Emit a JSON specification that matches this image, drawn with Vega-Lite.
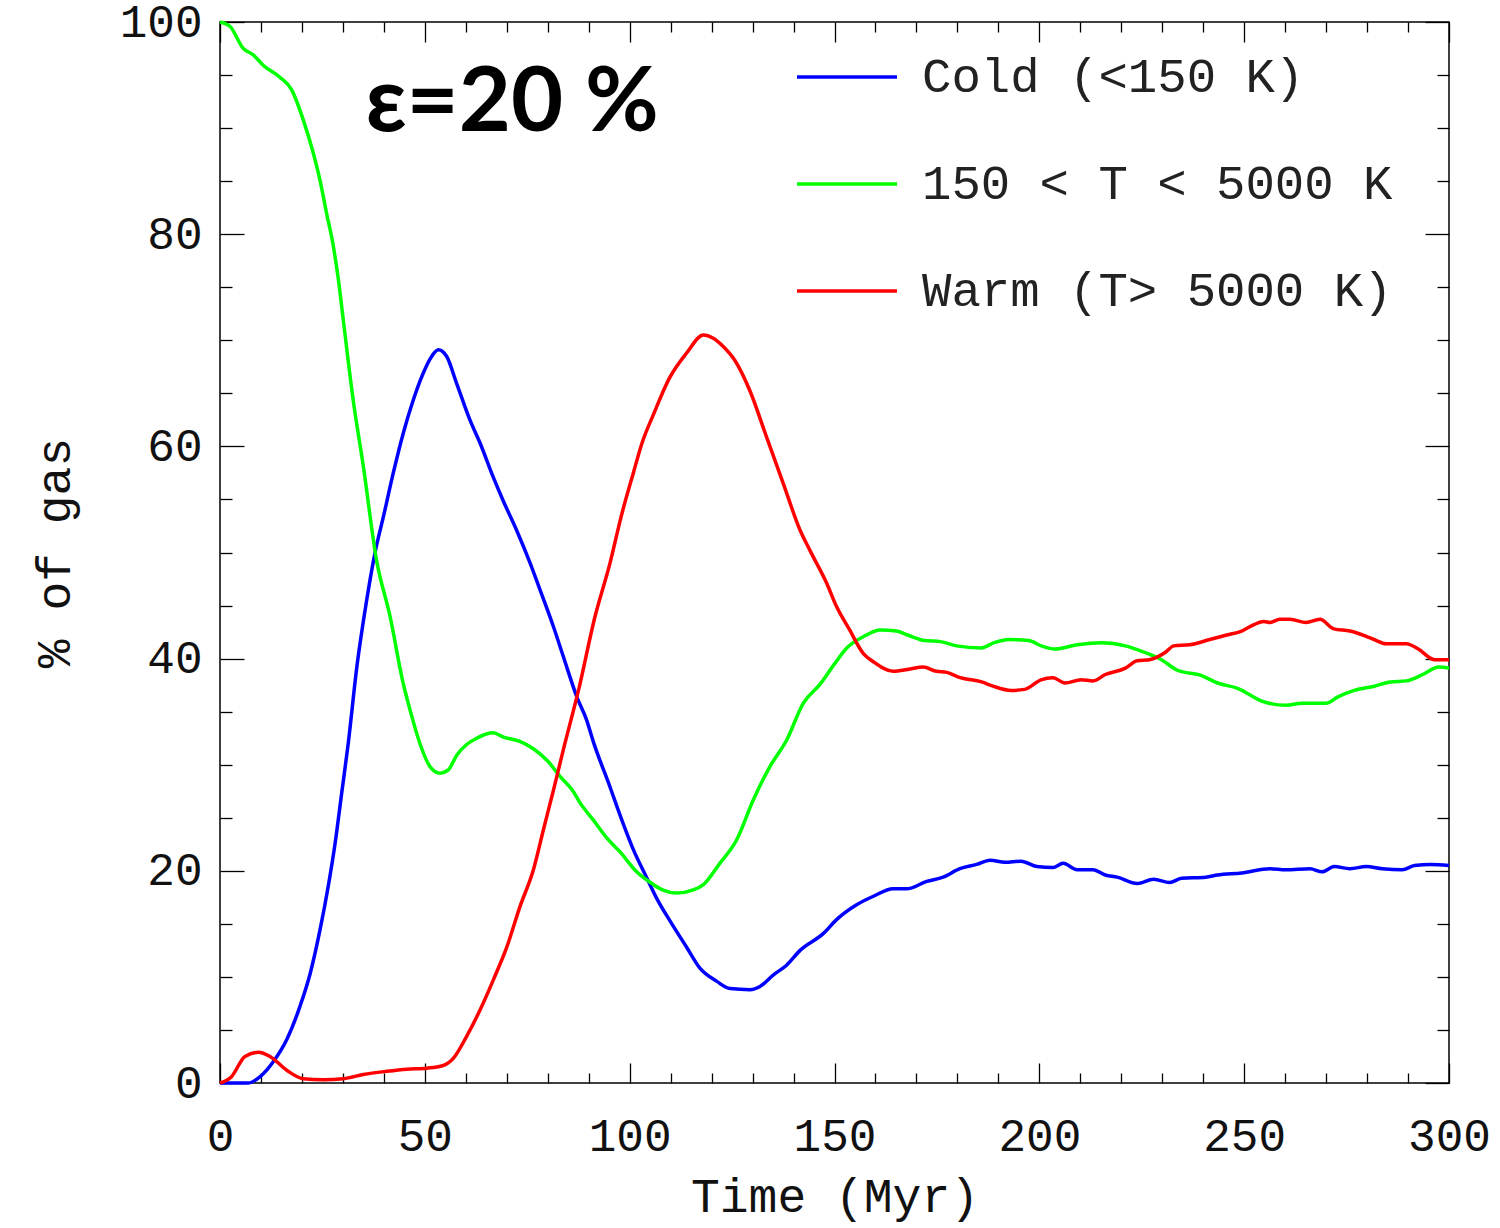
{
  "$schema": "https://vega.github.io/schema/vega-lite/v6.json",
  "width": 1229,
  "height": 1061,
  "autosize": {"type": "none"},
  "padding": {"left": 220, "top": 22, "right": 51, "bottom": 145},
  "background": "white",
  "config": {
    "view": {"stroke": "black", "strokeWidth": 1.5},
    "axis": {
      "domain": false, "grid": false, "tickColor": "black", "tickWidth": 1.3,
      "labelFont": "Liberation Mono", "labelFontSize": 46, "labelColor": "#111",
      "titleFont": "Liberation Mono", "titleFontSize": 48, "titleFontWeight": "normal", "titleColor": "#111"
    }
  },
  "datasets": {
    "gas": [
      {"t":0,"v":0,"s":"Cold (<150 K)"},{"t":6.9,"v":0,"s":"Cold (<150 K)"},{"t":9.8,"v":0.6,"s":"Cold (<150 K)"},{"t":13,"v":2,"s":"Cold (<150 K)"},{"t":16.3,"v":4.1,"s":"Cold (<150 K)"},{"t":19.5,"v":7.2,"s":"Cold (<150 K)"},{"t":22,"v":10.3,"s":"Cold (<150 K)"},{"t":24.4,"v":14.4,"s":"Cold (<150 K)"},{"t":26.4,"v":18.5,"s":"Cold (<150 K)"},{"t":28.1,"v":22.6,"s":"Cold (<150 K)"},{"t":29.7,"v":27.3,"s":"Cold (<150 K)"},{"t":31.3,"v":32,"s":"Cold (<150 K)"},{"t":33.4,"v":39.2,"s":"Cold (<150 K)"},{"t":35.8,"v":45.5,"s":"Cold (<150 K)"},{"t":37.8,"v":49.9,"s":"Cold (<150 K)"},{"t":39.9,"v":53.4,"s":"Cold (<150 K)"},{"t":42.3,"v":57.5,"s":"Cold (<150 K)"},{"t":44.7,"v":61.2,"s":"Cold (<150 K)"},{"t":47.2,"v":64.4,"s":"Cold (<150 K)"},{"t":49.6,"v":66.9,"s":"Cold (<150 K)"},{"t":51.7,"v":68.5,"s":"Cold (<150 K)"},{"t":53.3,"v":69.1,"s":"Cold (<150 K)"},{"t":55.3,"v":68.5,"s":"Cold (<150 K)"},{"t":57.8,"v":65.9,"s":"Cold (<150 K)"},{"t":61,"v":62.5,"s":"Cold (<150 K)"},{"t":63.5,"v":60.3,"s":"Cold (<150 K)"},{"t":66.7,"v":57.1,"s":"Cold (<150 K)"},{"t":69.1,"v":54.9,"s":"Cold (<150 K)"},{"t":72.4,"v":52.1,"s":"Cold (<150 K)"},{"t":75.7,"v":49,"s":"Cold (<150 K)"},{"t":78.1,"v":46.5,"s":"Cold (<150 K)"},{"t":81.4,"v":43,"s":"Cold (<150 K)"},{"t":83.8,"v":40.2,"s":"Cold (<150 K)"},{"t":87.1,"v":36.4,"s":"Cold (<150 K)"},{"t":89.5,"v":34.2,"s":"Cold (<150 K)"},{"t":91.1,"v":32.2,"s":"Cold (<150 K)"},{"t":95.2,"v":27.9,"s":"Cold (<150 K)"},{"t":97.6,"v":25.3,"s":"Cold (<150 K)"},{"t":100.9,"v":22,"s":"Cold (<150 K)"},{"t":104.1,"v":19.4,"s":"Cold (<150 K)"},{"t":106.6,"v":17.4,"s":"Cold (<150 K)"},{"t":109.8,"v":15.3,"s":"Cold (<150 K)"},{"t":113.9,"v":12.8,"s":"Cold (<150 K)"},{"t":117.2,"v":10.8,"s":"Cold (<150 K)"},{"t":121.2,"v":9.6,"s":"Cold (<150 K)"},{"t":124.5,"v":8.9,"s":"Cold (<150 K)"},{"t":129.4,"v":8.8,"s":"Cold (<150 K)"},{"t":131.8,"v":9.1,"s":"Cold (<150 K)"},{"t":135.1,"v":10.2,"s":"Cold (<150 K)"},{"t":138.3,"v":11.1,"s":"Cold (<150 K)"},{"t":141.6,"v":12.5,"s":"Cold (<150 K)"},{"t":147.3,"v":14.1,"s":"Cold (<150 K)"},{"t":150.5,"v":15.4,"s":"Cold (<150 K)"},{"t":155.4,"v":16.8,"s":"Cold (<150 K)"},{"t":159.5,"v":17.6,"s":"Cold (<150 K)"},{"t":164.3,"v":18.3,"s":"Cold (<150 K)"},{"t":167.6,"v":18.3,"s":"Cold (<150 K)"},{"t":172.5,"v":19,"s":"Cold (<150 K)"},{"t":176.5,"v":19.4,"s":"Cold (<150 K)"},{"t":180.6,"v":20.2,"s":"Cold (<150 K)"},{"t":184.7,"v":20.6,"s":"Cold (<150 K)"},{"t":188,"v":21,"s":"Cold (<150 K)"},{"t":191.6,"v":20.8,"s":"Cold (<150 K)"},{"t":195.5,"v":20.9,"s":"Cold (<150 K)"},{"t":199.4,"v":20.4,"s":"Cold (<150 K)"},{"t":203.3,"v":20.3,"s":"Cold (<150 K)"},{"t":205.8,"v":20.7,"s":"Cold (<150 K)"},{"t":209.2,"v":20.1,"s":"Cold (<150 K)"},{"t":213.1,"v":20.1,"s":"Cold (<150 K)"},{"t":216.1,"v":19.6,"s":"Cold (<150 K)"},{"t":219,"v":19.4,"s":"Cold (<150 K)"},{"t":223.9,"v":18.8,"s":"Cold (<150 K)"},{"t":227.9,"v":19.2,"s":"Cold (<150 K)"},{"t":231.8,"v":18.9,"s":"Cold (<150 K)"},{"t":234.7,"v":19.3,"s":"Cold (<150 K)"},{"t":240.6,"v":19.4,"s":"Cold (<150 K)"},{"t":243.5,"v":19.6,"s":"Cold (<150 K)"},{"t":249.4,"v":19.8,"s":"Cold (<150 K)"},{"t":256.3,"v":20.2,"s":"Cold (<150 K)"},{"t":260.2,"v":20.1,"s":"Cold (<150 K)"},{"t":266.1,"v":20.2,"s":"Cold (<150 K)"},{"t":269,"v":19.9,"s":"Cold (<150 K)"},{"t":272,"v":20.4,"s":"Cold (<150 K)"},{"t":275.8,"v":20.2,"s":"Cold (<150 K)"},{"t":279.8,"v":20.4,"s":"Cold (<150 K)"},{"t":283.7,"v":20.2,"s":"Cold (<150 K)"},{"t":288.6,"v":20.1,"s":"Cold (<150 K)"},{"t":291.6,"v":20.5,"s":"Cold (<150 K)"},{"t":295.5,"v":20.6,"s":"Cold (<150 K)"},{"t":300,"v":20.5,"s":"Cold (<150 K)"},

      {"t":0,"v":100,"s":"150 < T < 5000 K"},{"t":2.4,"v":99.6,"s":"150 < T < 5000 K"},{"t":5.7,"v":97.5,"s":"150 < T < 5000 K"},{"t":8.1,"v":96.9,"s":"150 < T < 5000 K"},{"t":10.6,"v":95.9,"s":"150 < T < 5000 K"},{"t":14.6,"v":94.8,"s":"150 < T < 5000 K"},{"t":17.5,"v":93.6,"s":"150 < T < 5000 K"},{"t":20.3,"v":90.8,"s":"150 < T < 5000 K"},{"t":22.8,"v":87.6,"s":"150 < T < 5000 K"},{"t":24.4,"v":85.1,"s":"150 < T < 5000 K"},{"t":26,"v":82,"s":"150 < T < 5000 K"},{"t":27.7,"v":78.8,"s":"150 < T < 5000 K"},{"t":28.9,"v":75.7,"s":"150 < T < 5000 K"},{"t":30.1,"v":71.9,"s":"150 < T < 5000 K"},{"t":32.5,"v":64.4,"s":"150 < T < 5000 K"},{"t":35,"v":58.1,"s":"150 < T < 5000 K"},{"t":38.2,"v":49.3,"s":"150 < T < 5000 K"},{"t":41.5,"v":44,"s":"150 < T < 5000 K"},{"t":44.7,"v":37.7,"s":"150 < T < 5000 K"},{"t":46.5,"v":35,"s":"150 < T < 5000 K"},{"t":48.8,"v":32,"s":"150 < T < 5000 K"},{"t":51.3,"v":29.8,"s":"150 < T < 5000 K"},{"t":53.7,"v":29.2,"s":"150 < T < 5000 K"},{"t":55.7,"v":29.5,"s":"150 < T < 5000 K"},{"t":57.8,"v":30.9,"s":"150 < T < 5000 K"},{"t":60.2,"v":31.9,"s":"150 < T < 5000 K"},{"t":62.7,"v":32.5,"s":"150 < T < 5000 K"},{"t":66.7,"v":33,"s":"150 < T < 5000 K"},{"t":69.2,"v":32.6,"s":"150 < T < 5000 K"},{"t":73.2,"v":32.2,"s":"150 < T < 5000 K"},{"t":76.5,"v":31.5,"s":"150 < T < 5000 K"},{"t":80.1,"v":30.3,"s":"150 < T < 5000 K"},{"t":83,"v":28.9,"s":"150 < T < 5000 K"},{"t":86.2,"v":27.5,"s":"150 < T < 5000 K"},{"t":87.9,"v":26.4,"s":"150 < T < 5000 K"},{"t":91.1,"v":24.8,"s":"150 < T < 5000 K"},{"t":94.4,"v":23.1,"s":"150 < T < 5000 K"},{"t":97.6,"v":21.8,"s":"150 < T < 5000 K"},{"t":101.7,"v":19.9,"s":"150 < T < 5000 K"},{"t":105.8,"v":18.7,"s":"150 < T < 5000 K"},{"t":108,"v":18.2,"s":"150 < T < 5000 K"},{"t":111.5,"v":17.9,"s":"150 < T < 5000 K"},{"t":115.5,"v":18.2,"s":"150 < T < 5000 K"},{"t":118,"v":18.7,"s":"150 < T < 5000 K"},{"t":122,"v":20.7,"s":"150 < T < 5000 K"},{"t":126.1,"v":22.9,"s":"150 < T < 5000 K"},{"t":130.2,"v":26.7,"s":"150 < T < 5000 K"},{"t":134.2,"v":29.8,"s":"150 < T < 5000 K"},{"t":138.3,"v":32.3,"s":"150 < T < 5000 K"},{"t":142.4,"v":35.8,"s":"150 < T < 5000 K"},{"t":146.5,"v":37.6,"s":"150 < T < 5000 K"},{"t":150,"v":39.5,"s":"150 < T < 5000 K"},{"t":153,"v":41,"s":"150 < T < 5000 K"},{"t":157.2,"v":42.1,"s":"150 < T < 5000 K"},{"t":161.2,"v":42.7,"s":"150 < T < 5000 K"},{"t":165.1,"v":42.6,"s":"150 < T < 5000 K"},{"t":168,"v":42.2,"s":"150 < T < 5000 K"},{"t":172,"v":41.7,"s":"150 < T < 5000 K"},{"t":175.9,"v":41.6,"s":"150 < T < 5000 K"},{"t":179.8,"v":41.2,"s":"150 < T < 5000 K"},{"t":185.7,"v":41,"s":"150 < T < 5000 K"},{"t":189,"v":41.5,"s":"150 < T < 5000 K"},{"t":192.5,"v":41.8,"s":"150 < T < 5000 K"},{"t":197.4,"v":41.7,"s":"150 < T < 5000 K"},{"t":200.5,"v":41.2,"s":"150 < T < 5000 K"},{"t":203.8,"v":40.9,"s":"150 < T < 5000 K"},{"t":209.2,"v":41.3,"s":"150 < T < 5000 K"},{"t":215.1,"v":41.5,"s":"150 < T < 5000 K"},{"t":221,"v":41.2,"s":"150 < T < 5000 K"},{"t":224.9,"v":40.7,"s":"150 < T < 5000 K"},{"t":229.8,"v":39.9,"s":"150 < T < 5000 K"},{"t":233.7,"v":38.9,"s":"150 < T < 5000 K"},{"t":239.6,"v":38.4,"s":"150 < T < 5000 K"},{"t":243.5,"v":37.7,"s":"150 < T < 5000 K"},{"t":248.4,"v":37.2,"s":"150 < T < 5000 K"},{"t":254.3,"v":36,"s":"150 < T < 5000 K"},{"t":260.2,"v":35.6,"s":"150 < T < 5000 K"},{"t":264.1,"v":35.8,"s":"150 < T < 5000 K"},{"t":270,"v":35.8,"s":"150 < T < 5000 K"},{"t":272.9,"v":36.4,"s":"150 < T < 5000 K"},{"t":276.9,"v":37,"s":"150 < T < 5000 K"},{"t":281.8,"v":37.4,"s":"150 < T < 5000 K"},{"t":285.7,"v":37.8,"s":"150 < T < 5000 K"},{"t":289.6,"v":37.9,"s":"150 < T < 5000 K"},{"t":293.6,"v":38.5,"s":"150 < T < 5000 K"},{"t":297.5,"v":39.2,"s":"150 < T < 5000 K"},{"t":300,"v":39.1,"s":"150 < T < 5000 K"},

      {"t":0,"v":0,"s":"Warm (T> 5000 K)"},{"t":2.8,"v":0.6,"s":"Warm (T> 5000 K)"},{"t":6.1,"v":2.5,"s":"Warm (T> 5000 K)"},{"t":9.4,"v":2.9,"s":"Warm (T> 5000 K)"},{"t":12.2,"v":2.5,"s":"Warm (T> 5000 K)"},{"t":16.3,"v":1.2,"s":"Warm (T> 5000 K)"},{"t":20.3,"v":0.4,"s":"Warm (T> 5000 K)"},{"t":25.2,"v":0.3,"s":"Warm (T> 5000 K)"},{"t":30.1,"v":0.4,"s":"Warm (T> 5000 K)"},{"t":35,"v":0.8,"s":"Warm (T> 5000 K)"},{"t":40.7,"v":1.1,"s":"Warm (T> 5000 K)"},{"t":45.6,"v":1.3,"s":"Warm (T> 5000 K)"},{"t":50.5,"v":1.4,"s":"Warm (T> 5000 K)"},{"t":54.1,"v":1.6,"s":"Warm (T> 5000 K)"},{"t":56.9,"v":2.3,"s":"Warm (T> 5000 K)"},{"t":60.2,"v":4.4,"s":"Warm (T> 5000 K)"},{"t":63.5,"v":6.9,"s":"Warm (T> 5000 K)"},{"t":66.7,"v":9.7,"s":"Warm (T> 5000 K)"},{"t":70,"v":12.8,"s":"Warm (T> 5000 K)"},{"t":73.2,"v":16.6,"s":"Warm (T> 5000 K)"},{"t":76.5,"v":20.1,"s":"Warm (T> 5000 K)"},{"t":78.9,"v":23.8,"s":"Warm (T> 5000 K)"},{"t":81.4,"v":27.6,"s":"Warm (T> 5000 K)"},{"t":83.8,"v":31.4,"s":"Warm (T> 5000 K)"},{"t":87.5,"v":37,"s":"Warm (T> 5000 K)"},{"t":91.5,"v":43.9,"s":"Warm (T> 5000 K)"},{"t":95.2,"v":49,"s":"Warm (T> 5000 K)"},{"t":98,"v":53.5,"s":"Warm (T> 5000 K)"},{"t":100.9,"v":57.5,"s":"Warm (T> 5000 K)"},{"t":103,"v":60.3,"s":"Warm (T> 5000 K)"},{"t":105.8,"v":63,"s":"Warm (T> 5000 K)"},{"t":109.8,"v":66.5,"s":"Warm (T> 5000 K)"},{"t":113.9,"v":68.8,"s":"Warm (T> 5000 K)"},{"t":118,"v":70.5,"s":"Warm (T> 5000 K)"},{"t":120.4,"v":70.2,"s":"Warm (T> 5000 K)"},{"t":122.9,"v":69.4,"s":"Warm (T> 5000 K)"},{"t":125.7,"v":68.1,"s":"Warm (T> 5000 K)"},{"t":129.4,"v":65.2,"s":"Warm (T> 5000 K)"},{"t":133.4,"v":60.9,"s":"Warm (T> 5000 K)"},{"t":137.5,"v":56.5,"s":"Warm (T> 5000 K)"},{"t":141.6,"v":52.1,"s":"Warm (T> 5000 K)"},{"t":144,"v":50.2,"s":"Warm (T> 5000 K)"},{"t":148.1,"v":47.1,"s":"Warm (T> 5000 K)"},{"t":150.5,"v":44.9,"s":"Warm (T> 5000 K)"},{"t":153.7,"v":42.7,"s":"Warm (T> 5000 K)"},{"t":157,"v":40.5,"s":"Warm (T> 5000 K)"},{"t":159.5,"v":39.7,"s":"Warm (T> 5000 K)"},{"t":164.3,"v":38.8,"s":"Warm (T> 5000 K)"},{"t":168.2,"v":39,"s":"Warm (T> 5000 K)"},{"t":171.6,"v":39.2,"s":"Warm (T> 5000 K)"},{"t":174.9,"v":38.8,"s":"Warm (T> 5000 K)"},{"t":177.4,"v":38.7,"s":"Warm (T> 5000 K)"},{"t":180.7,"v":38.2,"s":"Warm (T> 5000 K)"},{"t":185.9,"v":37.8,"s":"Warm (T> 5000 K)"},{"t":188.7,"v":37.4,"s":"Warm (T> 5000 K)"},{"t":193.2,"v":37,"s":"Warm (T> 5000 K)"},{"t":196.4,"v":37.1,"s":"Warm (T> 5000 K)"},{"t":200.4,"v":38,"s":"Warm (T> 5000 K)"},{"t":203.3,"v":38.2,"s":"Warm (T> 5000 K)"},{"t":206.3,"v":37.7,"s":"Warm (T> 5000 K)"},{"t":210.2,"v":38,"s":"Warm (T> 5000 K)"},{"t":213.1,"v":37.9,"s":"Warm (T> 5000 K)"},{"t":216.1,"v":38.5,"s":"Warm (T> 5000 K)"},{"t":221,"v":39.1,"s":"Warm (T> 5000 K)"},{"t":223.9,"v":39.8,"s":"Warm (T> 5000 K)"},{"t":226.9,"v":39.9,"s":"Warm (T> 5000 K)"},{"t":230.8,"v":40.6,"s":"Warm (T> 5000 K)"},{"t":232.8,"v":41.2,"s":"Warm (T> 5000 K)"},{"t":236.7,"v":41.3,"s":"Warm (T> 5000 K)"},{"t":241.6,"v":41.8,"s":"Warm (T> 5000 K)"},{"t":245.5,"v":42.2,"s":"Warm (T> 5000 K)"},{"t":249.4,"v":42.6,"s":"Warm (T> 5000 K)"},{"t":252.4,"v":43.2,"s":"Warm (T> 5000 K)"},{"t":254.8,"v":43.5,"s":"Warm (T> 5000 K)"},{"t":256.3,"v":43.4,"s":"Warm (T> 5000 K)"},{"t":258.7,"v":43.7,"s":"Warm (T> 5000 K)"},{"t":261.2,"v":43.7,"s":"Warm (T> 5000 K)"},{"t":265.1,"v":43.4,"s":"Warm (T> 5000 K)"},{"t":268.5,"v":43.7,"s":"Warm (T> 5000 K)"},{"t":271.9,"v":42.8,"s":"Warm (T> 5000 K)"},{"t":275.8,"v":42.6,"s":"Warm (T> 5000 K)"},{"t":279.8,"v":42.1,"s":"Warm (T> 5000 K)"},{"t":281.7,"v":41.8,"s":"Warm (T> 5000 K)"},{"t":284.7,"v":41.4,"s":"Warm (T> 5000 K)"},{"t":289.6,"v":41.4,"s":"Warm (T> 5000 K)"},{"t":292.5,"v":40.9,"s":"Warm (T> 5000 K)"},{"t":296.5,"v":39.9,"s":"Warm (T> 5000 K)"},{"t":300,"v":39.9,"s":"Warm (T> 5000 K)"}
    ]
  },
  "layer": [
    {
      "data": {"name": "gas"},
      "mark": {"type": "line", "strokeWidth": 3.5, "clip": false, "interpolate": "monotone"},
      "encoding": {
        "x": {"field": "t", "type": "quantitative",
          "scale": {"domain": [0, 300], "nice": false, "zero": false},
          "axis": {"orient": "bottom", "values": [0, 50, 100, 150, 200, 250, 300], "tickSize": -20, "labelPadding": 51, "labelFlush": false, "title": "Time (Myr)", "titlePadding": 14}},
        "y": {"field": "v", "type": "quantitative",
          "scale": {"domain": [0, 100], "nice": false, "zero": false},
          "axis": {"orient": "left", "values": [0, 20, 40, 60, 80, 100], "tickSize": -24, "labelPadding": 42, "labelFlush": false, "title": "% of gas", "titlePadding": 40}},
        "color": {"field": "s", "type": "nominal",
          "scale": {"domain": ["Cold (<150 K)", "150 < T < 5000 K", "Warm (T> 5000 K)"], "range": ["#0000ff", "#00ff00", "#ff0000"]},
          "legend": {"orient": "none", "legendX": 575, "legendY": 3, "title": null, "symbolType": "stroke", "symbolSize": 10000, "symbolStrokeWidth": 3.5, "labelFont": "Liberation Mono", "labelFontSize": 49, "labelColor": "#222", "labelOffset": 23, "rowPadding": 30, "padding": 0, "labelLimit": 700}}
      }
    },
    {
      "data": {"name": "gas"},
      "mark": {"type": "point", "opacity": 0},
      "encoding": {
        "x": {"field": "t", "type": "quantitative", "axis": {"orient": "bottom", "values": [10,20,30,40,60,70,80,90,110,120,130,140,160,170,180,190,210,220,230,240,260,270,280,290], "tickSize": -10, "labels": false, "title": null}},
        "y": {"field": "v", "type": "quantitative", "axis": {"orient": "left", "values": [5,10,15,25,30,35,45,50,55,65,70,75,85,90,95], "tickSize": -12, "labels": false, "title": null}}
      }
    },
    {
      "data": {"name": "gas"},
      "mark": {"type": "point", "opacity": 0},
      "encoding": {
        "x": {"field": "t", "type": "quantitative", "axis": {"orient": "top", "values": [0, 50, 100, 150, 200, 250, 300], "tickSize": -20, "labels": false, "title": null}},
        "y": {"field": "v", "type": "quantitative", "axis": {"orient": "right", "values": [0, 20, 40, 60, 80, 100], "tickSize": -24, "labels": false, "title": null}}
      }
    },
    {
      "data": {"name": "gas"},
      "mark": {"type": "point", "opacity": 0},
      "encoding": {
        "x": {"field": "t", "type": "quantitative", "axis": {"orient": "top", "values": [10,20,30,40,60,70,80,90,110,120,130,140,160,170,180,190,210,220,230,240,260,270,280,290], "tickSize": -10, "labels": false, "title": null}},
        "y": {"field": "v", "type": "quantitative", "axis": {"orient": "right", "values": [5,10,15,25,30,35,45,50,55,65,70,75,85,90,95], "tickSize": -12, "labels": false, "title": null}}
      }
    },
    {
      "data": {"values": [{"label": "ε=20 %"}]},
      "mark": {"type": "text", "font": "Lato", "fontWeight": "bold", "fontSize": 90, "align": "center", "baseline": "middle", "color": "black"},
      "encoding": {
        "text": {"field": "label", "type": "nominal"},
        "x": {"datum": 71.3, "type": "quantitative", "axis": null},
        "y": {"datum": 92.3, "type": "quantitative", "axis": null}
      }
    }
  ],
  "resolve": {"axis": {"x": "independent", "y": "independent"}}
}
